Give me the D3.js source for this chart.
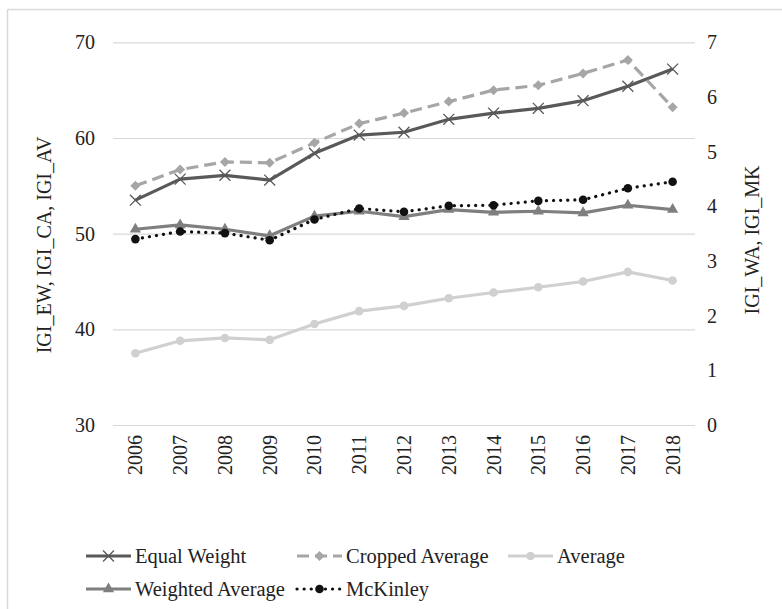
<!DOCTYPE html>
<html><head><meta charset="utf-8">
<script src="https://cdn.jsdelivr.net/npm/d3@7"></script>
<style>body{margin:0;background:#fff}svg{display:block}</style>
</head><body><div id="chart"></div>
<script>
const years = ["2006","2007","2008","2009","2010","2011","2012","2013","2014","2015","2016","2017","2018"];
const equalWeight = [53.5,55.7,56.1,55.6,58.4,60.3,60.6,61.95,62.6,63.1,63.9,65.4,67.2];
const croppedAverage = [55.0,56.7,57.5,57.4,59.5,61.5,62.6,63.8,65.0,65.5,66.75,68.15,63.2];
const average = [37.5,38.8,39.1,38.9,40.55,41.9,42.45,43.25,43.85,44.4,45.0,46.0,45.1];
const weightedAverage = [3.58,3.66,3.58,3.46,3.82,3.91,3.81,3.94,3.89,3.91,3.88,4.02,3.94];
const mcKinley = [3.40,3.54,3.51,3.38,3.76,3.96,3.90,4.01,4.02,4.10,4.12,4.33,4.45];
const leftTicks = [30,40,50,60,70];
const rightTicks = [0,1,2,3,4,5,6,7];

const FONT = "'Liberation Serif', 'Times New Roman', Times, Tinos, 'DejaVu Serif', serif";
const W = 782, H = 609;
const m = {left:113, right:87, top:42.3, bottom:184};
const svg = d3.select("#chart").append("svg").attr("width",W).attr("height",H)
  .attr("font-family",FONT);

// frame
svg.append("line").attr("x1",7.5).attr("x2",W).attr("y1",9.5).attr("y2",9.5).attr("stroke","#d9d9d9").attr("stroke-width",1.5);
svg.append("line").attr("x1",7.5).attr("x2",7.5).attr("y1",9.5).attr("y2",H).attr("stroke","#d9d9d9").attr("stroke-width",1.5);

const x = d3.scaleBand().domain(years).range([m.left, W-m.right]);
const yL = d3.scaleLinear().domain([30,70]).range([H-m.bottom, m.top]);
const yR = d3.scaleLinear().domain([0,7]).range([H-m.bottom, m.top]);
const cx = d => x(d) + x.bandwidth()/2;

// grid
svg.append("g").attr("transform",`translate(${m.left},0)`)
  .call(d3.axisLeft(yL).tickValues(leftTicks).tickSize(-(W-m.left-m.right)).tickFormat(""))
  .call(g=>g.select(".domain").remove())
  .call(g=>g.selectAll("line").attr("stroke","#d9d9d9").attr("stroke-width",1.2));

function styleText(sel, size){
  sel.attr("font-size",size||20).attr("font-family",FONT).style("font-family",FONT).attr("fill","#222");
}

// left tick labels
const gl = svg.append("g").attr("transform",`translate(${m.left},0)`)
  .call(d3.axisLeft(yL).tickValues(leftTicks).tickSize(0).tickPadding(18));
gl.attr("font-family",FONT);
gl.select(".domain").remove();
styleText(gl.selectAll("text"));

// right tick labels
const gr = svg.append("g").attr("transform",`translate(${W-m.right},0)`)
  .call(d3.axisRight(yR).tickValues(rightTicks).tickFormat(d3.format("d")).tickSize(0).tickPadding(12));
gr.attr("font-family",FONT);
gr.select(".domain").remove();
styleText(gr.selectAll("text"));

// x axis labels
const gx = svg.append("g").attr("transform",`translate(0,${H-m.bottom})`)
  .call(d3.axisBottom(x).tickSize(0).tickPadding(10));
gx.attr("font-family",FONT);
gx.select(".domain").remove();
styleText(gx.selectAll("text"));
gx.selectAll("text").attr("transform","rotate(-90)").attr("text-anchor","end").attr("dx","-10").attr("dy","0.35em").attr("y",0).attr("x",0);

// axis titles
styleText(svg.append("text").attr("transform",`translate(51,245) rotate(-90)`)
  .attr("text-anchor","middle").text("IGI_EW, IGI_CA, IGI_AV"));
styleText(svg.append("text").attr("transform",`translate(759,240) rotate(-90)`)
  .attr("text-anchor","middle").text("IGI_WA, IGI_MK"));

const series = [
  {name:"Equal Weight", vals:equalWeight, y:yL, color:"#595959", dash:null, cap:"butt", marker:"x"},
  {name:"Cropped Average", vals:croppedAverage, y:yL, color:"#a6a6a6", dash:"12,6", cap:"butt", marker:"diamond"},
  {name:"Average", vals:average, y:yL, color:"#d0d0d0", dash:null, cap:"butt", marker:"circle"},
  {name:"Weighted Average", vals:weightedAverage, y:yR, color:"#7f7f7f", dash:null, cap:"butt", marker:"triangle"},
  {name:"McKinley", vals:mcKinley, y:yR, color:"#111", dash:"0.1,7", cap:"round", marker:"circle"}
];

function drawMarker(g, type, color, px, py, s){
  if(type==="x"){
    g.append("path").attr("d",d3.symbol(d3.symbolX, 80)()).attr("transform",`translate(${px},${py})`)
      .attr("stroke",color).attr("stroke-width",1.3).attr("fill","none");
  } else if(type==="diamond"){
    g.append("path").attr("d",d3.symbol(d3.symbolSquare, 50)()).attr("transform",`translate(${px},${py}) rotate(45)`).attr("fill",color);
  } else if(type==="triangle"){
    g.append("path").attr("d",d3.symbol(d3.symbolTriangle, 55)()).attr("transform",`translate(${px},${py})`).attr("fill",color);
  } else {
    g.append("circle").attr("cx",px).attr("cy",py).attr("r",s||4.3).attr("fill",color);
  }
}

series.forEach(s=>{
  const g = svg.append("g");
  const line = d3.line().x((d,i)=>cx(years[i])).y(d=>s.y(d));
  g.append("path").datum(s.vals).attr("d",line).attr("fill","none").attr("stroke",s.color)
    .attr("stroke-width",3.2).attr("stroke-dasharray",s.dash).attr("stroke-linecap",s.cap).attr("stroke-linejoin","round");
  s.vals.forEach((v,i)=>drawMarker(g, s.marker, s.color, cx(years[i]), s.y(v)));
});

// legend: grid of 3 columns
const colX = [86, 297, 508], rowY = [556, 589];
series.forEach((s,i)=>{
  const lx = colX[i%3], ly = rowY[Math.floor(i/3)];
  const g = svg.append("g");
  g.append("line").attr("x1",lx).attr("x2",lx+45).attr("y1",ly).attr("y2",ly)
    .attr("stroke",s.color).attr("stroke-width",3.2).attr("stroke-dasharray",s.dash).attr("stroke-linecap",s.cap);
  drawMarker(g, s.marker, s.color, lx+22.5, ly);
  styleText(g.append("text").attr("x",lx+49).attr("y",ly).attr("dy","0.33em").text(s.name), 20.5);
});
</script></body></html>
